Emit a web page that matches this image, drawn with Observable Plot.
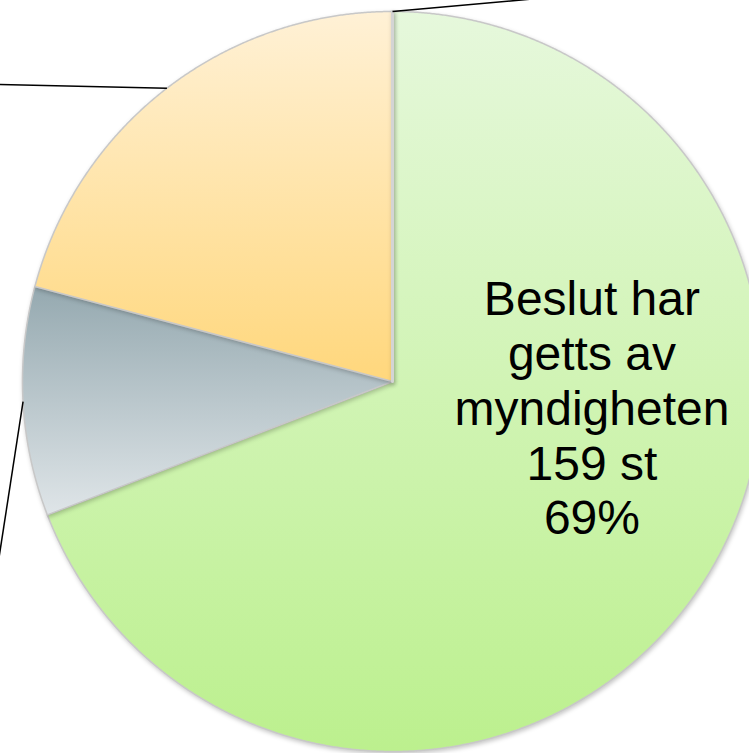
<!DOCTYPE html>
<html><head><meta charset="utf-8">
<script src="https://cdn.jsdelivr.net/npm/d3@7"></script>
<script src="https://cdn.jsdelivr.net/npm/@observablehq/plot@0.6"></script>
<style>
html,body{margin:0;padding:0;background:#fff;overflow:hidden;}
#chart svg{overflow:hidden;display:block;}
#chart g.slice path{filter:drop-shadow(1px 2px 2px rgba(0,0,0,0.22));}
</style></head><body><div id="chart"></div>
<script>
// ---- data ----
const categories = ["Beslut har getts av myndigheten", "Kategori 2", "Kategori 3", "Kategori 4"];
const values = [159, 23, 48, 0];
const unit = "st";
const labelShown = [true, false, false, false];

// ---- styles / layout ----
const gradientStops = [["#e6f8dc", "#bcf08e"], ["#95a9b0", "#dfe5e8"], ["#fff1d6", "#ffd77c"], ["#d9d9d9", "#d9d9d9"]];
const W = 749, H = 753, CX = 392, CY = 381, R = 370;
const labelAnchors = [[0.539, -0.070], [-1.073, -0.538], [-1.12, 0.804], [0.56, 1.05]];

const total = d3.sum(values);
const rows = categories.map((c, i) => ({i, category: c, value: values[i]}));
const arcs = d3.pie().sort(null).value(d => d.value)(rows);

// polygon points per slice (unit-radius space, y up)
const slicePts = arcs.map(a => {
  const pts = [{x: 0, y: 0}];
  const n = Math.max(2, Math.ceil((a.endAngle - a.startAngle) / 0.004));
  for (let k = 0; k <= n; k++) {
    const t = a.startAngle + (a.endAngle - a.startAngle) * k / n;
    pts.push({x: Math.sin(t), y: Math.cos(t)});
  }
  pts.push({x: 0, y: 0});
  return {i: a.data.i, zero: a.data.value === 0, pts};
});

const leaders = arcs.filter(a => !labelShown[a.data.i]).map(a => {
  const m = (a.startAngle + a.endAngle) / 2;
  return {x1: Math.sin(m), y1: Math.cos(m), x2: labelAnchors[a.data.i][0], y2: labelAnchors[a.data.i][1]};
});

const labels = arcs.filter(a => labelShown[a.data.i]).map(a => ({
  x: labelAnchors[a.data.i][0], y: labelAnchors[a.data.i][1],
  text: `${a.data.category}\n${a.data.value} ${unit}\n${Math.round(a.data.value / total * 100)}%`
}));

const marks = slicePts.map(s => Plot.line(s.pts, {
  x: "x", y: "y", curve: "linear",
  fill: `url(#grad${s.i})`, stroke: s.zero ? "#d4d4d4" : "#c8c8c8", strokeWidth: s.zero ? 3 : 1.5, strokeLinejoin: "round",
  className: "slice"
}));
marks.push(Plot.link(leaders, {x1: "x1", y1: "y1", x2: "x2", y2: "y2", stroke: "#000", strokeWidth: 1.5}));
marks.push(Plot.text(labels, {
  x: "x", y: "y", text: "text", fontSize: 48, lineWidth: 6.2, lineHeight: 1.14,
  fontFamily: "Liberation Sans, Arial, sans-serif", fill: "#000", textAnchor: "middle"
}));

const svg = Plot.plot({
  width: W, height: H, margin: 0,
  x: {domain: [-CX / R, (W - CX) / R], axis: null},
  y: {domain: [-(H - CY) / R, CY / R], axis: null},
  marks
});

// gradient definitions
const defs = d3.create("svg:defs");
gradientStops.forEach((g, i) => {
  const lg = defs.append("linearGradient").attr("id", `grad${i}`).attr("x1", 0).attr("y1", 0).attr("x2", 0).attr("y2", 1);
  lg.append("stop").attr("offset", 0).attr("stop-color", g[0]);
  lg.append("stop").attr("offset", 1).attr("stop-color", g[1]);
});
svg.insertBefore(defs.node(), svg.firstChild);
document.getElementById("chart").append(svg);
</script></body></html>
